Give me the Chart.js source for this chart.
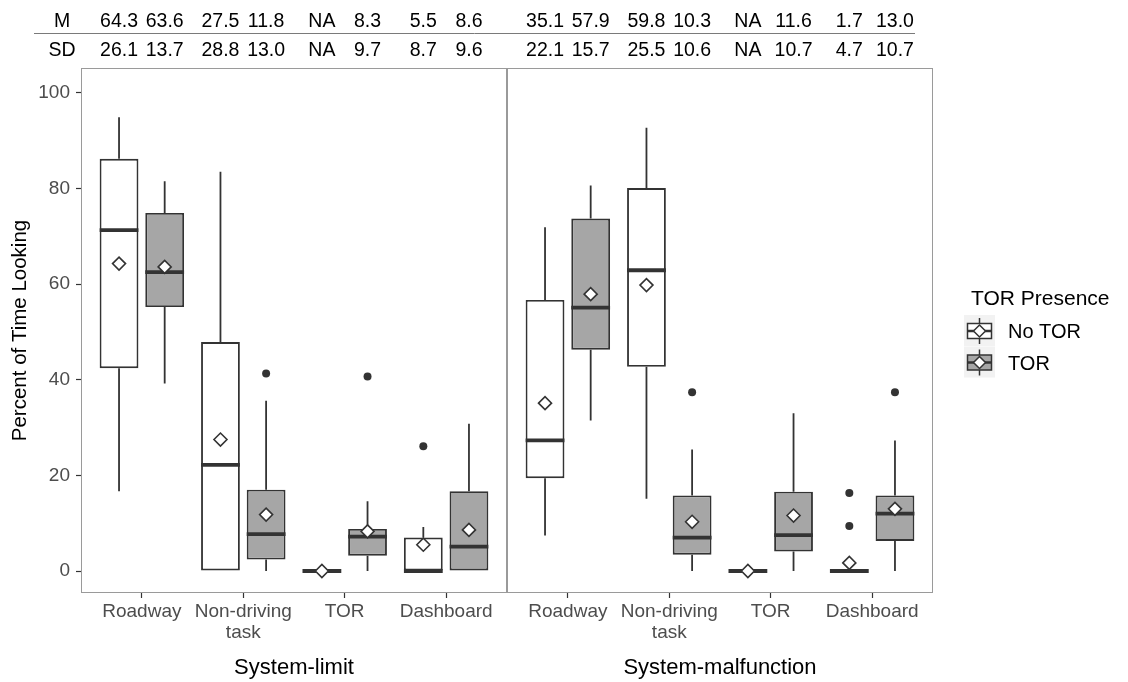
<!DOCTYPE html>
<html>
<head>
<meta charset="utf-8">
<title>Percent of Time Looking</title>
<script src="https://cdn.jsdelivr.net/npm/chart.js@4.4.1/dist/chart.umd.min.js"></script>
<style>
  html, body { margin: 0; padding: 0; background: #fff; }
  #wrap { width: 1128px; height: 682px; }
</style>
</head>
<body>
<div id="wrap"><canvas id="boxChart" width="1128" height="682"></canvas></div>
<script>
// categories per facet, facets, legend groups
const categories = ['Roadway', ['Non-driving', 'task'], 'TOR', 'Dashboard'];
const facets = ['System-limit', 'System-malfunction'];
const groups = ['No TOR', 'TOR'];
const yTicks = [0, 20, 40, 60, 80, 100];

// box stats: 4 System-limit values, then 4 System-malfunction
const noTorLow  = [16.7, 0, 0, 0, 7.4, 15.1, 0, 0];
const noTorQ1   = [42.4, 0, 0, 0, 19.4, 42.7, 0, 0];
const noTorMed  = [71.3, 22.2, 0, 0, 27.3, 62.9, 0, 0];
const noTorQ3   = [86.2, 47.9, 0, 7.0, 56.7, 80.1, 0, 0];
const noTorHigh = [94.9, 83.5, 0, 9.2, 71.9, 92.7, 0, 0];
const noTorMean = [64.3, 27.5, 0, 5.5, 35.1, 59.8, 0, 1.7];
const noTorOut  = [[], [], [], [26.1], [], [], [], [16.3, 9.4]];

const torLow  = [39.2, 0, 0, 0, 31.5, 0, 0, 0];
const torQ1   = [55.2, 2.4, 3.2, 0, 46.3, 3.4, 4.1, 6.3];
const torMed  = [62.5, 7.7, 7.2, 5.1, 55.1, 7.0, 7.5, 12.0];
const torQ3   = [74.9, 17.0, 8.8, 16.7, 73.7, 15.8, 16.6, 15.8];
const torHigh = [81.5, 35.6, 14.6, 30.8, 80.6, 25.4, 33.0, 27.3];
const torMean = [63.6, 11.8, 8.3, 8.6, 57.9, 10.3, 11.6, 13.0];
const torOut  = [[], [41.3], [40.7], [], [], [37.4], [], [37.4]];

// the M / SD table printed above the panels
const mNoTor  = ['64.3', '27.5', 'NA', '5.5', '35.1', '59.8', 'NA', '1.7'];
const mTor    = ['63.6', '11.8', '8.3', '8.6', '57.9', '10.3', '11.6', '13.0'];
const sdNoTor = ['26.1', '28.8', 'NA', '8.7', '22.1', '25.5', 'NA', '4.7'];
const sdTor   = ['13.7', '13.0', '9.7', '9.6', '15.7', '10.6', '10.7', '10.7'];

const FONT = '"Liberation Sans", Arial, Helvetica, sans-serif';
const INK = '#333333';
const GREY_FILL = '#a6a6a6';
const CAT_PCT = 0.9;   // dodge width
const EXPAND = 0.6;    // discrete axis expansion per facet
const facetSpan = categories.length - 1 + 2 * EXPAND;

// x position of each category on one shared linear axis
const catPos = [];
facets.forEach((f, fi) => categories.forEach((c, ci) => catPos.push(fi * facetSpan + EXPAND + ci)));

const dodge = g => (g === 0 ? -1 : 1) * CAT_PCT / 4;

const boxStats = [
  { low: noTorLow, q1: noTorQ1, med: noTorMed, q3: noTorQ3, high: noTorHigh },
  { low: torLow, q1: torQ1, med: torMed, q3: torQ3, high: torHigh }
];

function outlierPoints(list, g) {
  const pts = [];
  list.forEach((vals, i) => vals.forEach(v => pts.push({ x: catPos[i] + dodge(g), y: v })));
  return pts;
}

const boxParts = {
  id: 'boxParts',
  afterDatasetDraw(chart, args) {
    const s = boxStats[args.index];
    if (!s) return;
    const y = chart.scales.y;
    const ctx = chart.ctx;
    ctx.save();
    ctx.strokeStyle = INK;
    args.meta.data.forEach((bar, i) => {
      ctx.lineWidth = 1.8;
      ctx.beginPath();
      ctx.moveTo(bar.x, y.getPixelForValue(s.q3[i]));
      ctx.lineTo(bar.x, y.getPixelForValue(s.high[i]));
      ctx.moveTo(bar.x, y.getPixelForValue(s.q1[i]));
      ctx.lineTo(bar.x, y.getPixelForValue(s.low[i]));
      ctx.stroke();
      const m = y.getPixelForValue(s.med[i]);
      ctx.lineWidth = 3.8;
      ctx.beginPath();
      ctx.moveTo(bar.x - bar.width / 2, m);
      ctx.lineTo(bar.x + bar.width / 2, m);
      ctx.stroke();
    });
    ctx.restore();
  },
  afterDraw(chart) {
    const ctx = chart.ctx;
    const area = chart.chartArea;
    const x = chart.scales.x;
    const split = x.getPixelForValue(facetSpan);

    ctx.save();
    // panel borders
    ctx.strokeStyle = '#9a9a9a';
    ctx.lineWidth = 1;
    ctx.strokeRect(area.left + 0.5, area.top + 0.5, split - area.left - 1, area.bottom - area.top - 1);
    ctx.strokeRect(split + 0.5, area.top + 0.5, area.right - split - 1, area.bottom - area.top - 1);

    // M / SD table
    ctx.fillStyle = '#000';
    ctx.font = '19.5px ' + FONT;
    ctx.textAlign = 'center';
    ctx.textBaseline = 'alphabetic';
    ctx.fillText('M', 62, 27);
    ctx.fillText('SD', 62, 56);
    const rows = [[mNoTor, mTor], [sdNoTor, sdTor]];
    [0, 1].forEach(g => {
      chart.getDatasetMeta(g).data.forEach((bar, i) => {
        ctx.fillText(rows[0][g][i], bar.x, 27);
        ctx.fillText(rows[1][g][i], bar.x, 56);
      });
    });
    ctx.strokeStyle = '#7a7a7a';
    ctx.beginPath();
    ctx.moveTo(34, 33.5);
    ctx.lineTo(915, 33.5);
    ctx.stroke();

    // facet labels under the axis
    ctx.font = '22px ' + FONT;
    ctx.fillText(facets[0], (area.left + split) / 2, 674);
    ctx.fillText(facets[1], (split + area.right) / 2, 674);

    // legend
    ctx.textAlign = 'left';
    ctx.font = '21px ' + FONT;
    ctx.fillText('TOR Presence', 971, 305);
    ctx.font = '20px ' + FONT;
    groups.forEach((name, g) => {
      const top = 315 + g * 31.5;
      const cx = 979.5, cy = top + 16;
      ctx.fillStyle = '#f2f2f2';
      ctx.fillRect(964, top, 31, 31);
      ctx.strokeStyle = INK;
      ctx.lineWidth = 1.5;
      ctx.beginPath();
      ctx.moveTo(cx, top + 3);
      ctx.lineTo(cx, top + 29);
      ctx.stroke();
      ctx.fillStyle = g === 0 ? '#fff' : GREY_FILL;
      ctx.fillRect(967.5, cy - 7.5, 24, 15);
      ctx.strokeRect(967.5, cy - 7.5, 24, 15);
      ctx.lineWidth = 2.5;
      ctx.beginPath();
      ctx.moveTo(967.5, cy);
      ctx.lineTo(991.5, cy);
      ctx.stroke();
      ctx.lineWidth = 1.5;
      ctx.fillStyle = '#fff';
      ctx.beginPath();
      ctx.moveTo(cx, cy - 6);
      ctx.lineTo(cx + 6, cy);
      ctx.lineTo(cx, cy + 6);
      ctx.lineTo(cx - 6, cy);
      ctx.closePath();
      ctx.fill();
      ctx.stroke();
      ctx.fillStyle = '#000';
      ctx.fillText(name, 1008, cy + 7);
    });
    ctx.restore();
  }
};

Chart.defaults.font.family = FONT;

const ctxBox = document.getElementById('boxChart');

new Chart(ctxBox, {
  type: 'bar',
  data: {
    datasets: [
      {
        label: groups[0],
        data: catPos.map((p, i) => ({ x: p, y: [noTorQ1[i], noTorQ3[i]] })),
        backgroundColor: '#ffffff',
        borderColor: INK,
        borderWidth: 1.9,
        borderSkipped: false,
        categoryPercentage: CAT_PCT,
        barPercentage: 0.85,
        order: 2
      },
      {
        label: groups[1],
        data: catPos.map((p, i) => ({ x: p, y: [torQ1[i], torQ3[i]] })),
        backgroundColor: GREY_FILL,
        borderColor: INK,
        borderWidth: 1.9,
        borderSkipped: false,
        categoryPercentage: CAT_PCT,
        barPercentage: 0.85,
        order: 2
      },
      {
        type: 'scatter',
        label: 'mean No TOR',
        data: catPos.map((p, i) => ({ x: p + dodge(0), y: noTorMean[i] })),
        pointStyle: 'rectRot',
        pointRadius: 6.5,
        backgroundColor: '#ffffff',
        borderColor: INK,
        borderWidth: 1.6,
        order: 0
      },
      {
        type: 'scatter',
        label: 'mean TOR',
        data: catPos.map((p, i) => ({ x: p + dodge(1), y: torMean[i] })),
        pointStyle: 'rectRot',
        pointRadius: 6.5,
        backgroundColor: '#ffffff',
        borderColor: INK,
        borderWidth: 1.6,
        order: 0
      },
      {
        type: 'scatter',
        label: 'outliers No TOR',
        data: outlierPoints(noTorOut, 0),
        pointRadius: 4,
        backgroundColor: INK,
        borderWidth: 0,
        order: 1
      },
      {
        type: 'scatter',
        label: 'outliers TOR',
        data: outlierPoints(torOut, 1),
        pointRadius: 4,
        backgroundColor: INK,
        borderWidth: 0,
        order: 1
      }
    ]
  },
  options: {
    responsive: false,
    animation: false,
    devicePixelRatio: 1,
    layout: {
      padding: { top: 68, right: 195, bottom: 0, left: 0 }
    },
    scales: {
      x: {
        type: 'linear',
        offset: false,
        min: 0,
        max: facetSpan * facets.length,
        afterBuildTicks: axis => { axis.ticks = catPos.map(v => ({ value: v })); },
        afterFit: axis => { axis.height = 89; },
        grid: { offset: false, drawOnChartArea: false, drawTicks: true, tickLength: 5, tickColor: INK, tickWidth: 1.2, color: INK },
        border: { display: false },
        ticks: {
          autoSkip: false,
          maxRotation: 0,
          minRotation: 0,
          padding: 3,
          color: '#4d4d4d',
          font: { size: 19, lineHeight: 1.1 },
          callback: (value, index) => categories[index % categories.length]
        }
      },
      y: {
        min: -4.6,
        max: 105.2,
        afterBuildTicks: axis => { axis.ticks = yTicks.map(v => ({ value: v })); },
        afterFit: axis => { axis.width = 81; },
        grid: { drawOnChartArea: false, drawTicks: true, tickLength: 5, tickColor: INK, tickWidth: 1.2, color: INK },
        border: { display: false },
        ticks: {
          padding: 6,
          color: '#4d4d4d',
          font: { size: 19 }
        },
        title: {
          display: true,
          text: 'Percent of Time Looking',
          color: '#000',
          font: { size: 20.5 },
          padding: { top: 8, bottom: 0 }
        }
      }
    },
    plugins: {
      legend: { display: false },
      tooltip: { enabled: false }
    }
  },
  plugins: [boxParts]
});
</script>
</body>
</html>
